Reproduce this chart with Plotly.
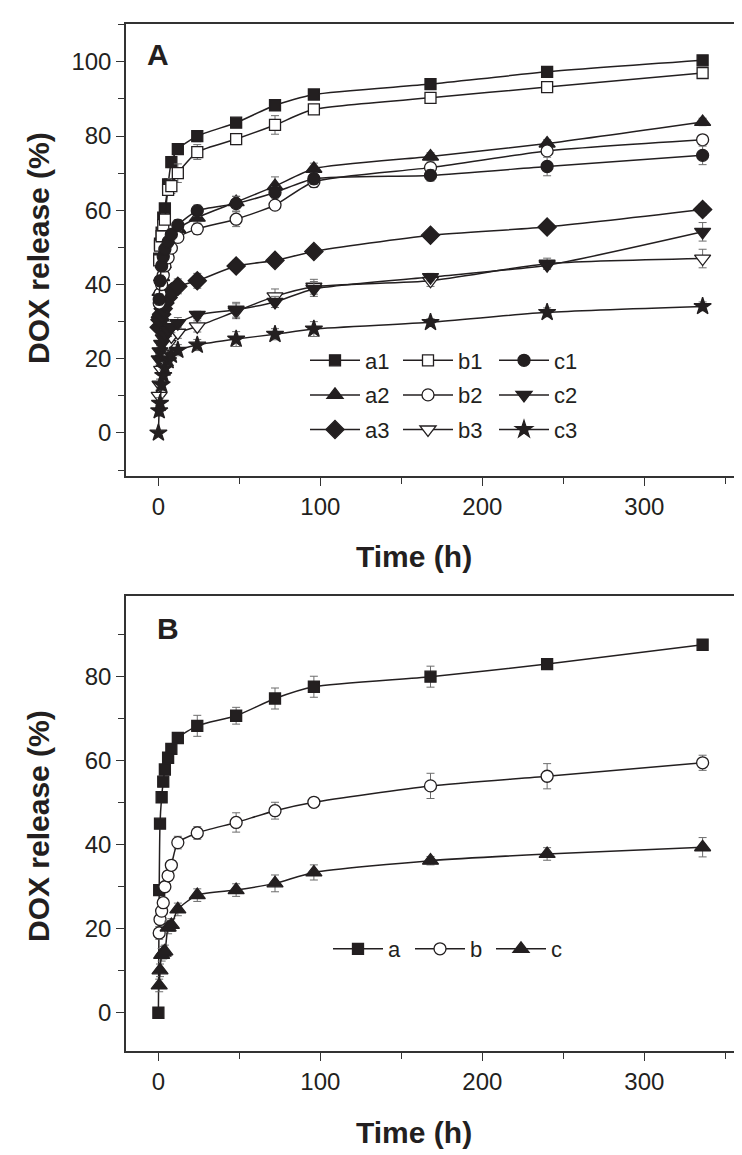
import plotly.graph_objects as go

# ---------------- data ----------------
t_A = [0.5, 1, 2, 3, 4, 6, 8, 12, 24, 48, 72, 96, 168, 240, 336]
t_A_c3 = [0, 0.5, 1, 2, 3, 4, 6, 8, 12, 24, 48, 72, 96, 168, 240, 336]

a1 = [47, 51, 54, 58, 60.5, 67, 73, 76.5, 80, 83.6, 88.3, 91.2, 94, 97.3, 100.4]
b1 = [46.5, 50.5, 53, 56, 57.5, 65.5, 66.5, 70, 75.7, 79.2, 83, 87.2, 90.3, 93.2, 97]
c1 = [36, 41, 45, 47.5, 49.5, 51.5, 53.5, 56, 59.9, 61.8, 64.8, 68.5, 69.4, 71.8, 74.8]
a2 = [32, 38, 42, 45.5, 48.5, 51, 53, 55, 58, 62.2, 66.5, 71.2, 74.5, 78, 83.8]
b2 = [35, 37.5, 40, 42.5, 45, 47.2, 49.8, 52.7, 55, 57.6, 61.4, 67.7, 71.5, 76, 79]
c2 = [19.8, 22, 24, 25.5, 26.5, 27.5, 28.5, 29.6, 31.8, 33.2, 35.3, 38.8, 42, 45.2, 54.2]
a3 = [28.5, 30.5, 32, 33.5, 35, 36.5, 38, 39.5, 41, 45, 46.5, 48.9, 53.3, 55.5, 60.2]
b3 = [10, 13, 17, 20, 22, 24, 26, 27, 28.7, 32.8, 36.8, 39.4, 41, 45.6, 47]
c3 = [0, 6, 8, 13, 15.5, 17.5, 19.5, 21, 22.3, 23.7, 25.3, 26.6, 28, 29.8, 32.5, 34.1]

a1_err = [1, 1, 1, 1, 1, 1.5, 1.5, 1, 1.5, 1, 1, 0.8, 0.8, 0.8, 0.5]
b1_err = [1, 1, 1.5, 1.5, 1.5, 1.5, 2, 2.5, 2, 1.5, 2.5, 1.2, 0.8, 1, 1]
c1_err = [1.5, 1.5, 1.5, 1.5, 1.5, 1.5, 1.5, 1.5, 1.5, 2, 1.5, 1.5, 1.5, 2.5, 2.5]
a2_err = [1, 1, 1, 1, 1, 1, 1, 1.5, 1.5, 1.5, 2.5, 1.5, 1, 1, 1]
b2_err = [1, 1, 1, 1, 1, 1, 1, 1, 1.5, 2, 1.2, 1.5, 1.5, 1.2, 1.2]
c2_err = [1.5, 1.5, 1.5, 1.5, 1.5, 1.5, 1.5, 1.5, 1, 2, 1.5, 2, 1, 1, 2.5]
a3_err = [1, 1, 1, 1, 1, 1.5, 2, 2, 2, 1.5, 1.5, 1, 1, 1, 1.5]
b3_err = [1.5, 1.5, 1.5, 1.5, 1.5, 1.5, 1.5, 1.5, 1.5, 2, 2, 2, 1.5, 1.5, 2.5]
c3_err = [0, 1.5, 1.5, 1.5, 1.5, 1.5, 1.5, 1.5, 1.5, 1.5, 2, 1.5, 2, 1, 1.2, 1.2]

t_B = [0, 0.5, 1, 2, 3, 4, 6, 8, 12, 24, 48, 72, 96, 168, 240, 336]
t_Bbc = [0.5, 1, 2, 3, 4, 6, 8, 12, 24, 48, 72, 96, 168, 240, 336]
a = [0, 29.2, 45, 51.3, 55, 57.9, 60.7, 62.8, 65.4, 68.3, 70.7, 74.8, 77.6, 80, 83, 87.6]
b = [19, 22.2, 24.2, 26.2, 30, 32.6, 35.1, 40.5, 42.8, 45.3, 48.1, 50.1, 54, 56.3, 59.5]
c = [6.5, 10.1, 13.8, 14.3, 14.6, 20.3, 20.9, 24.6, 28, 29.2, 30.8, 33.4, 36.2, 37.8, 39.4]
a_err = [0, 1, 1, 1, 1, 1, 1, 1, 1, 2.5, 2, 2.5, 2.5, 2.5, 0.8, 0.8]
b_err = [1.5, 1, 1, 1, 1, 1, 1, 1.5, 1.5, 2.3, 2, 1, 3, 3, 1.8]
c_err = [1.5, 1.5, 1.5, 1.5, 1.5, 1.5, 1.5, 1.5, 1.5, 1.5, 2, 1.8, 1, 1.5, 2.3]

# ---------------- style ----------------
W, H = 742, 1155
INK = "#231f20"
FONT = "Liberation Sans, Arial, sans-serif"


def sym(name, fill, size):
    return dict(symbol=name, size=size, color=fill, line=dict(color=INK, width=1.3))


# (name, x, y, err, marker, legend id)
series_A = [
    ("a1", t_A, a1, a1_err, sym("square", INK, 11), "legend"),
    ("a2", t_A, a2, a2_err, sym("triangle-up", INK, 14), "legend"),
    ("a3", t_A, a3, a3_err, sym("diamond", INK, 14), "legend"),
    ("b1", t_A, b1, b1_err, sym("square", "white", 11), "legend2"),
    ("b2", t_A, b2, b2_err, sym("circle", "white", 12), "legend2"),
    ("b3", t_A, b3, b3_err, sym("triangle-down", "white", 14), "legend2"),
    ("c1", t_A, c1, c1_err, sym("circle", INK, 12), "legend3"),
    ("c2", t_A, c2, c2_err, sym("triangle-down", INK, 14), "legend3"),
    ("c3", t_A_c3, c3, c3_err, sym("star", INK, 13), "legend3"),
]
series_B = [
    ("a", t_B, a, a_err, sym("square", INK, 11), "legend4"),
    ("b", t_Bbc, b, b_err, sym("circle", "white", 12), "legend5"),
    ("c", t_Bbc, c, c_err, sym("triangle-up", INK, 14), "legend6"),
]

fig = go.Figure()
for xa, ya, series in (("x", "y", series_A), ("x2", "y2", series_B)):
    for name, x, y, e, m, lg in series:
        fig.add_trace(go.Scatter(
            x=x, y=y, name=name, mode="lines+markers",
            line=dict(color=INK, width=1.5, shape="spline", smoothing=0.6),
            marker=m,
            error_y=dict(type="data", array=e, color="#6d6d6d", thickness=1, width=4),
            xaxis=xa, yaxis=ya, legend=lg, legendgroup=name,
        ))


def px_x(p):
    return p / W


def px_y(p):
    return 1 - p / H


xdom = [px_x(118), px_x(727)]
axis_common = dict(
    showline=True, mirror=True, linecolor="#333333", linewidth=1.5,
    ticks="outside", ticklen=8, tickwidth=1.3, tickcolor="#333333",
    showgrid=False, zeroline=False,
    tickfont=dict(family=FONT, size=24, color=INK),
)
xaxis_common = dict(axis_common, range=[-20, 356], tick0=0, dtick=100,
                    minor=dict(ticks="outside", ticklen=6, dtick=50, tick0=0,
                               tickcolor="#333333", tickwidth=1.3))


def leg(xpx, ypx):
    return dict(orientation="v", x=px_x(xpx), y=px_y(ypx), xanchor="left", yanchor="middle",
                itemwidth=50, bgcolor="rgba(0,0,0,0)", borderwidth=0,
                traceorder="grouped", tracegroupgap=3,
                font=dict(family=FONT, size=22, color=INK))


fig.update_layout(
    width=W, height=H,
    margin=dict(l=0, r=0, t=0, b=0),
    paper_bgcolor="white", plot_bgcolor="white",
    font=dict(family=FONT, color=INK),
    xaxis=dict(xaxis_common, domain=xdom, anchor="y"),
    yaxis=dict(axis_common, domain=[px_y(468), px_y(16)], anchor="x",
               range=[-11.6, 110.2], tick0=0, dtick=20,
               minor=dict(ticks="outside", ticklen=6, dtick=10, tick0=0,
                          tickcolor="#333333", tickwidth=1.3)),
    xaxis2=dict(xaxis_common, domain=xdom, anchor="y2"),
    yaxis2=dict(axis_common, domain=[px_y(1043), px_y(588)], anchor="x2",
                range=[-9.1, 99.2], tick0=0, dtick=20,
                minor=dict(ticks="outside", ticklen=6, dtick=10, tick0=0,
                           tickcolor="#333333", tickwidth=1.3)),
    legend=leg(297, 387),
    legend2=leg(390, 387),
    legend3=leg(486, 387),
    legend4=leg(320, 941),
    legend5=leg(402, 941),
    legend6=leg(483, 941),
    showlegend=True,
)

annos = [
    dict(text="<b>A</b>", x=px_x(150), y=px_y(46), font=dict(size=30)),
    dict(text="<b>B</b>", x=px_x(160), y=px_y(620), font=dict(size=30)),
    dict(text="<b>Time (h)</b>", x=px_x(406), y=px_y(548), font=dict(size=30)),
    dict(text="<b>Time (h)</b>", x=px_x(406), y=px_y(1124), font=dict(size=30)),
    dict(text="<b>DOX release (%)</b>", x=px_x(30), y=px_y(240), textangle=-90, font=dict(size=30)),
    dict(text="<b>DOX release (%)</b>", x=px_x(30), y=px_y(818), textangle=-90, font=dict(size=30)),
]
for an in annos:
    an.update(xref="paper", yref="paper", showarrow=False, xanchor="center", yanchor="middle")
    an["font"] = dict(an["font"], family=FONT, color=INK)
    fig.add_annotation(**an)

fig.write_html("out.html")
